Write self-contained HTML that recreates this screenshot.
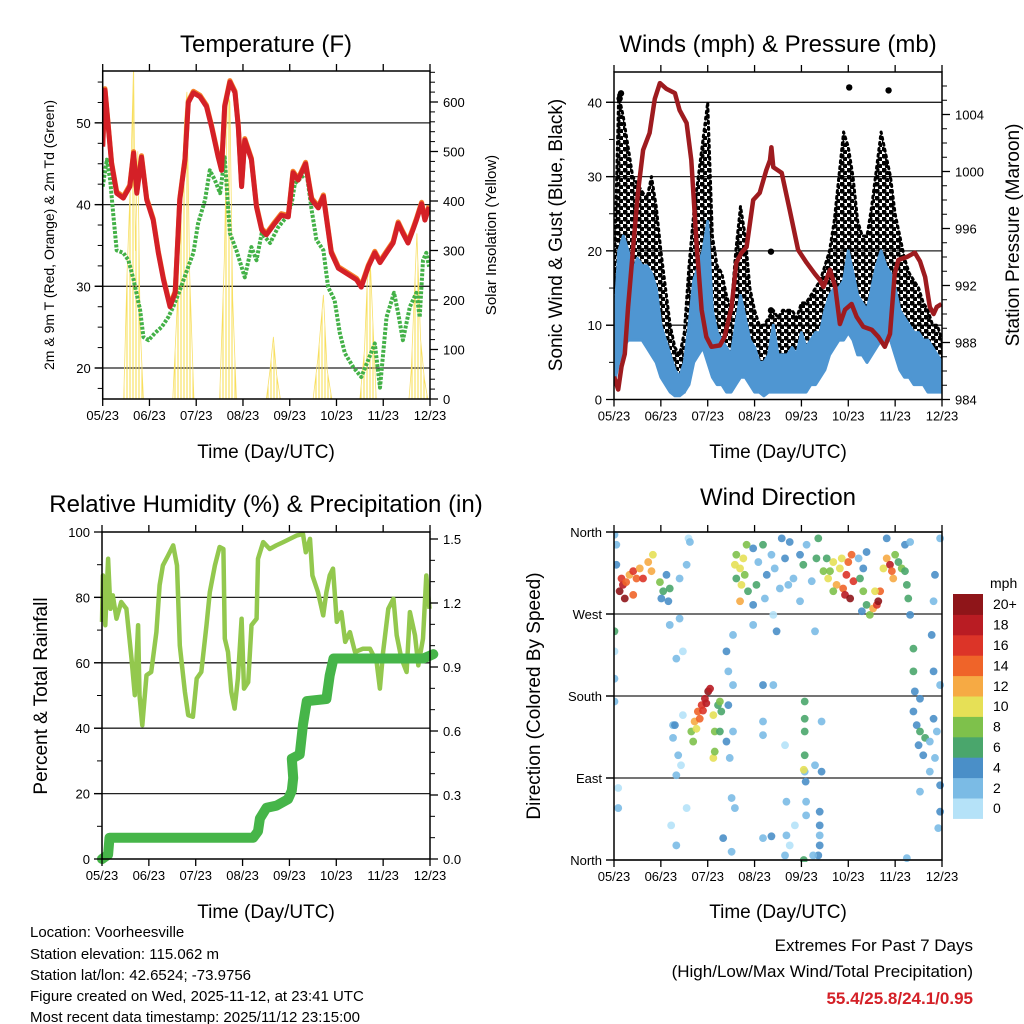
<!DOCTYPE html>
<html><head><meta charset="utf-8">
<style>
body{margin:0;background:#fff;}
svg{display:block;font-family:"Liberation Sans",sans-serif;}
</style></head>
<body>
<svg id="c" width="1024" height="1024" viewBox="0 0 1024 1024" xmlns="http://www.w3.org/2000/svg">
<rect x="0" y="0" width="1024" height="1024" fill="#fff"/>
<text x="266" y="52" font-size="24" text-anchor="middle">Temperature (F)</text>
<text x="778" y="52" font-size="24" text-anchor="middle">Winds (mph) &amp; Pressure (mb)</text>
<text x="266" y="512" font-size="24" text-anchor="middle">Relative Humidity (%) &amp; Precipitation (in)</text>
<text x="778" y="505" font-size="24" text-anchor="middle">Wind Direction</text>
<text x="266" y="458" font-size="19" text-anchor="middle">Time (Day/UTC)</text>
<text x="778" y="458" font-size="19" text-anchor="middle">Time (Day/UTC)</text>
<text x="266" y="918" font-size="19" text-anchor="middle">Time (Day/UTC)</text>
<text x="778" y="918" font-size="19" text-anchor="middle">Time (Day/UTC)</text>
<text transform="translate(54,235) rotate(-90)" font-size="14" text-anchor="middle">2m &amp; 9m T (Red, Orange) &amp; 2m Td (Green)</text>
<text transform="translate(496,235) rotate(-90)" font-size="15" text-anchor="middle">Solar Insolation (Yellow)</text>
<text transform="translate(562,235) rotate(-90)" font-size="19" text-anchor="middle">Sonic Wind &amp; Gust (Blue, Black)</text>
<text transform="translate(1019,235) rotate(-90)" font-size="19" text-anchor="middle">Station Pressure (Maroon)</text>
<text transform="translate(47,696) rotate(-90)" font-size="19" text-anchor="middle">Percent &amp; Total Rainfall</text>
<text transform="translate(540,696) rotate(-90)" font-size="19" text-anchor="middle">Direction (Colored By Speed)</text>
<g font-size="15">
<text x="30" y="937">Location: Voorheesville</text>
<text x="30" y="959">Station elevation: 115.062 m</text>
<text x="30" y="980">Station lat/lon: 42.6524; -73.9756</text>
<text x="30" y="1001">Figure created on Wed, 2025-11-12, at 23:41 UTC</text>
<text x="30" y="1022">Most recent data timestamp: 2025/11/12 23:15:00</text>
</g>
<text x="973" y="951" font-size="17" text-anchor="end">Extremes For Past 7 Days</text>
<text x="973" y="977" font-size="17" text-anchor="end">(High/Low/Max Wind/Total Precipitation)</text>
<text x="973" y="1004" font-size="17" font-weight="bold" fill="#d42027" text-anchor="end">55.4/25.8/24.1/0.95</text>
</svg>
<script>
const monthLabels=["05/23","06/23","07/23","08/23","09/23","10/23","11/23","12/23"];
// Temperature (t in months since 05/23)
const tempT=[0,.05,.12,.19,.30,.44,.58,.66,.73,.83,.94,1.08,1.19,1.30,1.44,1.55,1.65,1.76,1.83,1.94,2.08,2.22,2.33,2.47,2.54,2.61,2.72,2.83,2.90,2.97,3.04,3.18,3.29,3.40,3.50,3.68,3.82,3.97,4.07,4.18,4.34,4.47,4.61,4.72,4.79,4.89,5.04,5.21,5.43,5.53,5.68,5.82,5.93,6.07,6.21,6.32,6.42,6.53,6.64,6.71,6.82,6.89,6.98];
const tempF=[47.1,54.0,49.5,45,41.4,40.8,42.2,46.3,41.4,45.8,40.6,38.1,34.1,30.8,27.5,29.2,40.6,45.5,52.5,53.7,53.2,52,49.5,45.8,44.2,52,55,53.7,49.5,42.2,47.9,45.5,39.7,36.9,36.3,37.7,38.7,38.5,43.9,43,45,40.6,39.6,41,38.1,34.1,32.2,31.6,30.8,29.9,32.4,34.1,32.9,34.1,35.3,37.7,36.5,35.3,37,38.1,40.1,38.1,39.7];
const dewT=[0,.09,.16,.23,.30,.44,.55,.66,.80,.87,.98,1.12,1.26,1.40,1.51,1.65,1.83,1.94,2.04,2.19,2.29,2.40,2.51,2.61,2.72,2.86,3.04,3.18,3.29,3.40,3.58,3.75,3.93,4.04,4.11,4.36,4.47,4.57,4.72,4.82,4.96,5.07,5.18,5.36,5.53,5.68,5.82,5.93,6.07,6.23,6.32,6.42,6.57,6.71,6.78,6.85,6.92,6.98];
const dewF=[42.2,45.5,43,38.5,34.4,34.1,33.2,30.8,27.1,23.8,23.4,24.3,25.0,26.2,27.5,29.5,32.4,34.1,37.7,40.6,44.2,43,41.4,45.8,36.5,34.4,31.1,34.8,33.2,36.5,35.3,37.2,38.5,40.1,42.6,43.9,39.3,35.7,34.4,29.9,28.3,24.3,21.8,20.1,18.9,21.0,23.0,17.6,26.2,29.2,26.7,23.4,27.5,29.2,26.2,33.2,34.1,32.4];
const solarT=[.45,.52,.6,.66,.7,.75,.8,.87,1.5,1.6,1.68,1.75,1.8,1.86,1.95,2.5,2.6,2.67,2.72,2.78,2.86,3.5,3.58,3.65,3.72,3.8,4.5,4.6,4.72,4.8,4.9,5.5,5.6,5.66,5.72,5.78,5.85,6.55,6.6,6.66,6.72,6.8,6.88,6.95];
const solarW=[0,250,460,676,300,500,150,0,0,200,400,560,620,250,0,0,280,620,600,200,0,0,60,125,50,0,0,80,210,60,0,0,100,240,280,150,0,0,60,200,334,120,40,0];
// Winds
const windT=[0,.1,.2,.3,.4,.5,.6,.7,.8,.9,1,1.1,1.2,1.3,1.4,1.5,1.6,1.7,1.8,1.9,2,2.1,2.2,2.3,2.4,2.5,2.6,2.7,2.8,2.9,3,3.1,3.2,3.3,3.4,3.5,3.6,3.7,3.8,3.9,4,4.1,4.2,4.3,4.4,4.5,4.6,4.7,4.8,4.9,5,5.1,5.2,5.3,5.4,5.5,5.6,5.7,5.8,5.9,6,6.1,6.2,6.3,6.4,6.5,6.6,6.7,6.8,6.9,7];
const sonicLo=[2,5,7,8,8,8,8,7,6,5,3,2,1,.5,.5,1,2,5,6,7,5,3,2,2,1,1,2,3,3,2,1,1,.5,1,1,1,1,1,1,1,1,1,2,2,3,4,6,7,8,8,9,8,6,6,5,6,7,8,8,8,6,4,3,3,2,2,2,1,1,1,1];
const sonicHi=[9,20,22,20,17,19,18,18,17,15,10,8,6,4,3,5,10,16,18,20,24,12,9,8,7,6,10,14,11,8,7,5,5,6,10,6,6,6,7,6,9,7,8,9,9,12,14,15,15,16,20,17,14,13,12,15,18,20,18,17,15,12,11,10,9,9,8,8,7,6,5];
const gustLo=[2,10,12,13,12,12,12,10,9,7,5,3,2,1,1,1,3,7,9,10,8,5,3,3,2,2,4,6,5,3,2,2,1,2,2,2,2,2,2,2,2,2,3,3,4,6,9,10,12,13,14,12,9,8,7,9,11,12,12,11,9,6,5,5,4,4,3,3,2,2,2];
const gustHi=[15,41,38,34,30,29,28,27,30,26,20,15,10,7,6,9,18,25,30,35,40,22,18,17,14,12,20,26,22,15,12,10,10,11,12,11,12,12,12,11,13,13,14,15,16,18,20,24,30,36,34,30,24,22,22,26,31,36,33,30,25,22,19,17,16,15,13,12,10,10,8];
const gustOutT=[5.02,5.86,3.35,3.35,.15,.12];
const gustOutV=[42,41.6,19.9,12,41.2,40.5];
const presT=[0,.09,.16,.23,.30,.41,.51,.62,.76,.87,.98,1.12,1.30,1.40,1.55,1.65,1.76,1.87,1.97,2.08,2.26,2.36,2.51,2.61,2.72,2.83,2.97,3.11,3.25,3.33,3.36,3.40,3.58,3.75,3.93,4.11,4.29,4.39,4.47,4.61,4.72,4.82,4.93,5.07,5.18,5.32,5.50,5.64,5.78,5.89,5.99,6.07,6.25,6.42,6.53,6.64,6.74,6.82,6.89,6.99];
const presMb=[985.6,984.7,986.3,987.2,990.5,994.7,998.5,1001.5,1002.7,1005.1,1006.2,1005.8,1005.5,1004.3,1003.4,1000.8,995.0,990.3,988.4,987.7,987.8,988.4,990.5,993.6,994.3,994.7,998.0,998.5,1000.1,1000.8,1001.7,1000.3,999.9,997.3,994.5,993.6,992.8,992.4,991.9,993.1,991.9,989.3,990.3,990.7,989.8,989.1,988.9,988.4,987.7,988.6,992.8,993.8,994.0,994.3,993.7,992.6,990.5,990.0,990.5,990.7];
// RH & precip
const rhT=[0,.02,.07,.13,.18,.23,.31,.41,.52,.63,.70,.77,.80,.86,.95,1.05,1.16,1.23,1.30,1.41,1.52,1.60,1.66,1.77,1.84,1.94,2.02,2.12,2.23,2.30,2.41,2.51,2.59,2.62,2.69,2.76,2.83,2.90,2.98,3.03,3.12,3.19,3.30,3.33,3.44,3.58,3.72,3.87,4.01,4.15,4.29,4.35,4.44,4.49,4.61,4.72,4.79,4.86,4.93,5.01,5.11,5.19,5.29,5.40,5.57,5.72,5.86,5.93,6.00,6.11,6.22,6.29,6.39,6.50,6.57,6.68,6.75,6.85,6.92,6.99];
const rhPct=[72.5,86.7,71.5,91.8,76.5,80.6,73.5,78.6,76.5,61.3,50.1,71.5,50.1,40.9,56.2,57.2,69.4,83.7,89.8,92.8,95.9,89.8,65.3,51.1,44.0,43.5,55.2,57.2,71.5,81.6,89.8,95.4,94.8,67.4,63.3,51.1,46.0,55.2,73.5,52.1,54.1,71.5,73.5,91.8,96.9,94.8,95.9,96.9,97.9,98.9,99.4,93.8,97.9,86.7,81.6,74.5,81.6,86.7,88.8,72.5,75.5,66.4,69.4,63.3,64.3,64.3,60.3,52.1,63.3,76.5,79.6,68.4,61.3,57.2,75.5,68.4,59.2,67.4,86.7,76.5];
const prT=[0,.13,.16,3.23,3.33,3.37,3.51,3.72,3.97,4.05,4.08,4.05,4.22,4.29,4.37,4.79,4.86,4.94,6.86,7.07];
const prIn=[0,.02,.1,.1,.13,.19,.24,.25,.28,.32,.38,.47,.49,.63,.74,.75,.86,.94,.94,.96];
// Wind direction scatter: time, direction (deg), speed (mph)
const dirT=[.12,.19,.16,.26,.33,.41,.48,.55,.62,.73,.80,.83,.05,.05,.01,.41,.23,.98,1.05,1.12,1.19,1.01,1.16,1.19,1.40,1.33,1.47,1.55,1.59,1.40,1.26,1.33,1.55,1.33,1.22,1.62,1.43,1.47,1.65,1.72,1.79,1.87,1.94,2.01,2.05,1.69,1.76,1.83,1.90,1.97,2.12,2.15,2.12,2.15,2.22,2.26,2.29,2.26,2.44,2.40,2.47,2.54,2.51,2.58,1.30,1.26,1.37,2.40,2.44,2.54,2.33,2.51,2.54,2.61,2.69,2.76,2.72,2.79,2.61,2.69,2.58,2.83,2.86,2.97,3.08,3.18,3.26,3.36,3.43,3.58,3.65,3.75,3.83,3.97,4.04,4.11,4.22,4.32,4.36,3.54,2.97,3.04,3.22,3.40,3.47,2.97,3.72,4.29,3.97,3.18,3.18,3.18,3.40,3.65,3.68,3.68,3.65,3.75,3.36,3.18,3.86,4.07,4.07,4.07,4.07,4.07,4.05,4.09,4.10,4.10,4.39,4.39,4.39,4.39,4.36,4.25,4.05,4.29,4.43,4.43,4.47,4.57,4.68,4.75,4.82,4.89,4.96,5.0,5.07,5.11,4.93,5.04,4.86,4.68,4.61,4.54,5.25,5.32,5.39,5.46,5.53,5.61,5.64,5.68,5.57,5.32,5.29,5.22,5.39,5.75,5.82,5.89,5.93,5.96,6.0,6.07,6.14,6.21,6.25,6.28,6.21,5.82,6.32,6.39,6.39,6.42,6.39,6.46,6.53,6.64,6.50,6.60,6.74,6.82,6.89,6.85,6.74,6.96,6.53,6.96,6.92,6.82,6.96,6.78,6.82,6.85,6.96,6.32,6.25,6.53,.01,.01,.01,.09,.09,.01];
const dirDeg=[295,302,309,305,313,317,309,320,309,327,317,335,324,346,357,291,287,305,295,313,298,287,284,258,265,221,229,324,353,309,148,93,57,16,38,349,104,159,141,152,163,170,177,185,188,130,144,155,164,172,159,141,112,119,170,174,163,141,170,130,112,141,68,57,148,134,115,229,207,192,24,9,247,335,320,331,302,313,309,284,324,346,295,342,327,346,313,335,320,353,331,349,309,335,324,346,306,331,353,298,280,302,287,269,251,258,302,251,284,192,152,137,192,126,64,27,5,16,26,24,38,174,155,141,115,97,99,86,64,49,53,38,27,16,5,5,0,104,97,152,317,309,327,302,320,298,313,327,335,306,291,287,331,295,317,331,309,295,280,269,276,280,284,295,295,320,273,331,338,320,331,324,317,309,335,327,320,317,302,287,346,353,269,232,207,185,163,148,141,134,126,115,130,155,141,112,97,82,75,53,35,207,192,247,284,313,353,349,2,177,251,199,174,79,57,229];
const dirSpd=[20,19,17,15,13,16,14,12,17,12,13,11,5,3,2,15,20,8,6,5,7,5,4,3,2,2,1,2,1,2,3,2,1,2,1,3,1,1,9,12,15,16,19,20,18,8,10,14,17,18,10,9,10,8,7,8,7,6,4,4,3,3,3,2,4,3,2,4,2,3,4,2,3,8,10,10,11,9,6,13,11,8,6,4,3,6,4,3,2,4,5,4,3,4,7,3,2,6,7,3,4,6,2,1,4,3,2,3,2,4,3,2,2,1,2,2,3,1,4,2,1,7,6,6,7,3,10,4,2,2,4,4,3,4,4,3,6,2,4,2,9,10,11,12,10,14,16,14,15,17,19,20,11,8,8,6,6,8,7,9,12,16,20,14,11,5,4,3,4,10,12,19,15,13,8,7,8,7,6,6,4,5,4,6,6,4,4,5,7,7,4,4,3,4,2,3,2,4,3,4,2,4,2,4,3,4,2,2,2,4,6,3,2,1,2,1,3];
const spdColors=["#b5e2f8","#7bbbe5","#4a8fc8","#4aa66c","#7ec14b","#e6e056","#f6aa44","#ef6429","#dc3428","#b91c23","#8f1519"];
const spdLabels=["0","2","4","6","8","10","12","14","16","18","20+"];

const NS="http://www.w3.org/2000/svg";
const svg=document.getElementById('c');
function el(tag,attrs,parent){const e=document.createElementNS(NS,tag);for(const k in attrs)e.setAttribute(k,attrs[k]);(parent||svg).appendChild(e);return e;}
function lin(d0,d1,r0,r1){return v=>r0+(v-d0)/(d1-d0)*(r1-r0);}

function panel(name,L,R,T,B){
  const g=el('g',{});
  
  
  const x=lin(0,7,L,R);
  return {g,x,L,R,T,B};
}
function frame(p,name){
  const f=el('rect',{x:p.L,y:p.T,width:p.R-p.L,height:p.B-p.T,fill:'none',stroke:'#000','stroke-width':1.5},p.g);
  
  
  for(let i=0;i<monthLabels.length;i++){
    const xx=p.x(i);
    el('line',{x1:xx,x2:xx,y1:p.B,y2:p.B+7,stroke:'#000','stroke-width':1.3},p.g);
    el('line',{x1:xx,x2:xx,y1:p.T,y2:p.T-7,stroke:'#000','stroke-width':1.3},p.g);
    const t=el('text',{x:xx,y:p.B+21,'font-size':13,'text-anchor':'middle'},p.g);
    t.textContent=monthLabels[i];
    
    
  }
}
function grid(p,y){el('line',{x1:p.L-8,x2:p.R,y1:y,y2:y,stroke:'#222','stroke-width':1.3},p.g);}
function leftTicks(p,vals,labels,sc,minor){
  minor.forEach(v=>el('line',{x1:p.L-5,x2:p.L,y1:sc(v),y2:sc(v),stroke:'#000'},p.g));
  vals.forEach((v,i)=>{el('line',{x1:p.L-8,x2:p.L,y1:sc(v),y2:sc(v),stroke:'#000','stroke-width':1.3},p.g);
    const t=el('text',{x:p.L-12,y:sc(v)+5,'font-size':13,'text-anchor':'end'},p.g);t.textContent=labels[i];
    
    });
}
function rightTicks(p,vals,labels,sc,minor){
  minor.forEach(v=>el('line',{x1:p.R,x2:p.R+5,y1:sc(v),y2:sc(v),stroke:'#000'},p.g));
  vals.forEach((v,i)=>{el('line',{x1:p.R,x2:p.R+8,y1:sc(v),y2:sc(v),stroke:'#000','stroke-width':1.3},p.g);
    const t=el('text',{x:p.R+13,y:sc(v)+5,'font-size':13,'text-anchor':'start'},p.g);t.textContent=labels[i];
    
    });
}
function pts(xs,ys,x,y){return xs.map((v,i)=>x(v).toFixed(1)+','+y(ys[i]).toFixed(1)).join(' ');}

const defs=el('defs',{});
const pat=el('pattern',{id:'hatch',width:3,height:4,patternUnits:'userSpaceOnUse'},defs);
el('line',{x1:1,x2:1,y1:0,y2:4,stroke:'#f7dc4a','stroke-width':1},pat);
const dpat=el('pattern',{id:'dots',width:7,height:7,patternUnits:'userSpaceOnUse'},defs);
el('circle',{cx:2,cy:2,r:2.6,fill:'#000'},dpat);
el('circle',{cx:5.5,cy:5.5,r:2.6,fill:'#000'},dpat);

// ---------- Panel 1: Temperature ----------
{
const p=panel('temperature',102.7,430,71,399);
const y=lin(20,30,368,286.3);
const ys=lin(0,600,399,102);
[20,30,40,50].forEach(v=>grid(p,y(v)));
const cp=el('clipPath',{id:'cp1'},defs);el('rect',{x:p.L,y:p.T,width:p.R-p.L,height:p.B-p.T},cp);
const cg=el('g',{'clip-path':'url(#cp1)'},p.g);
const sol=el('polygon',{points:p.x(solarT[0])+','+ys(0)+' '+pts(solarT,solarW,p.x,ys)+' '+p.x(solarT[solarT.length-1])+','+ys(0),fill:'url(#hatch)',stroke:'#f8e06a','stroke-width':0.8,'stroke-linejoin':'round'},cg);


const dew=el('polyline',{points:pts(dewT,dewF,p.x,y),fill:'none',stroke:'#43b147','stroke-width':4,'stroke-dasharray':'3 1.5','stroke-linejoin':'round'},cg);


const o=el('polyline',{points:pts(tempT,tempF,p.x,v=>y(v)-1.5),fill:'none',stroke:'#f5802a','stroke-width':5,'stroke-linejoin':'round'},cg);


const r=el('polyline',{points:pts(tempT,tempF,p.x,y),fill:'none',stroke:'#d42027','stroke-width':5,'stroke-linejoin':'round'},cg);


frame(p,'temperature');
leftTicks(p,[20,30,40,50],["20","30","40","50"],y,[17.5,22.5,25,27.5,32.5,35,37.5,42.5,45,47.5,52.5,55]);
const mn=[];for(let v=20;v<=660;v+=20)if(v%100)mn.push(v);
rightTicks(p,[0,100,200,300,400,500,600],["0","100","200","300","400","500","600"],ys,mn);
}
// ---------- Panel 2: Winds ----------
{
const p=panel('winds',614,942,72,399.5);
const y=lin(0,10,399.5,325.2);
const yp=lin(984,988,399.5,342.5);
[10,20,30,40].forEach(v=>grid(p,y(v)));
const cp=el('clipPath',{id:'cp2'},defs);el('rect',{x:p.L,y:p.T,width:p.R-p.L,height:p.B-p.T},cp);
const cg=el('g',{'clip-path':'url(#cp2)'},p.g);
const gp=pts(windT,gustHi,p.x,y)+' '+pts(windT.slice().reverse(),gustLo.slice().reverse(),p.x,y);
const g1=el('polygon',{points:gp,fill:'url(#dots)',stroke:'#000','stroke-width':3,'stroke-dasharray':'2 4','stroke-linecap':'round','stroke-linejoin':'round'},cg);


gustOutT.forEach((t,i)=>{const c=el('circle',{cx:p.x(t),cy:y(gustOutV[i]),r:3.2,fill:'#000'},cg);

});
const bp=pts(windT,sonicHi,p.x,y)+' '+pts(windT.slice().reverse(),sonicLo.slice().reverse(),p.x,y);
const b1=el('polygon',{points:bp,fill:'#4f96d2',stroke:'#4f96d2','stroke-width':3,'stroke-linejoin':'round'},cg);


const pr=el('polyline',{points:pts(presT,presMb,p.x,yp),fill:'none',stroke:'#9e1b1f','stroke-width':4.5,'stroke-linejoin':'round'},cg);


frame(p,'winds');
leftTicks(p,[0,10,20,30,40],["0","10","20","30","40"],y,[5,15,25,35]);
const mn=[];for(let v=985;v<=1006;v++)if(v%4)mn.push(v);
rightTicks(p,[984,988,992,996,1000,1004],["984","988","992","996","1000","1004"],yp,mn);
}
// ---------- Panel 3: RH & precip ----------
{
const p=panel('humidity',102,430,532,859);
const y=lin(0,100,859,532);
const yr=lin(0,0.3,859,795);
[20,40,60,80].forEach(v=>grid(p,y(v)));
const cp=el('clipPath',{id:'cp3'},defs);el('rect',{x:p.L-6,y:p.T,width:p.R-p.L+16,height:p.B-p.T+6},cp);
const cg=el('g',{'clip-path':'url(#cp3)'},p.g);
const rh=el('polyline',{points:pts(rhT,rhPct,p.x,y),fill:'none',stroke:'#93c84e','stroke-width':4.5,'stroke-linejoin':'round'},cg);


const pc=el('polyline',{points:pts(prT,prIn,p.x,yr),fill:'none',stroke:'#46b549','stroke-width':10,'stroke-linejoin':'round','stroke-linecap':'round'},cg);


frame(p,'humidity');
leftTicks(p,[0,20,40,60,80,100],["0","20","40","60","80","100"],y,[10,30,50,70,90]);
const mn=[];for(let v=0;v<=1.5;v+=0.1){if(Math.abs(v*10/3-Math.round(v*10/3))>0.01)mn.push(v);}
rightTicks(p,[0,.3,.6,.9,1.2,1.5],["0.0","0.3","0.6","0.9","1.2","1.5"],yr,mn);
}
// ---------- Panel 4: Wind direction ----------
{
const p=panel('wind-direction',614,942,532,860);
const y=lin(0,360,860,532);
[90,180,270].forEach(v=>grid(p,y(v)));
grid(p,y(0));grid(p,y(360));
const cp=el('clipPath',{id:'cp4'},defs);el('rect',{x:p.L,y:p.T-2,width:p.R-p.L+4,height:p.B-p.T+4},cp);
const cg=el('g',{'clip-path':'url(#cp4)'},p.g);
dirT.forEach((t,i)=>{
  const bin=Math.min(10,Math.floor(dirSpd[i]/2));
  const c=el('circle',{cx:p.x(t),cy:y(dirDeg[i]),r:3.9,fill:spdColors[bin],'fill-opacity':0.9},cg);
  
  
});
frame(p,'wind-direction');
leftTicks(p,[0,90,180,270,360],["North","East","South","West","North"],y,[]);
const cb=el('g',{});


const ct=el('text',{x:990,y:588,'font-size':14},cb);ct.textContent='mph';
const h=20.4;
for(let i=0;i<11;i++){
  const yy=594+(10-i)*h;
  el('rect',{x:953,y:yy,width:30,height:h+0.5,fill:spdColors[i]},cb);
  const t=el('text',{x:993,y:yy+h/2+5,'font-size':14},cb);t.textContent=spdLabels[i];
  
  
}
}
</script>
</body></html>
